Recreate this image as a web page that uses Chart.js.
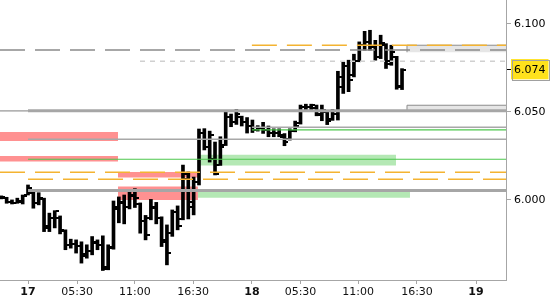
<!DOCTYPE html>
<html>
<head>
<meta charset="utf-8">
<script src="https://cdn.jsdelivr.net/npm/chart.js@4.4.1/dist/chart.umd.min.js"></script>
<style>
  html, body { margin: 0; padding: 0; background: #fff; }
</style>
</head>
<body>
<canvas id="priceChart" width="550" height="300"></canvas>
<script>
// half-hour bars, x = bar number
const highs = [6.0023, 6.0015, 6.0000, 6.0010, 6.0028, 6.0085, 6.0047, 6.0041, 6.0010, 5.9925,
  5.9939, 5.9909, 5.9830, 5.9777, 5.9773, 5.9762, 5.9745, 5.9792, 5.9773, 5.9796,
  5.9745, 5.9994, 6.0017, 6.0028, 6.0045, 6.0064, 5.9983, 5.9912, 6.0003, 5.9986,
  5.9904, 5.9858, 5.9943, 5.9966, 6.0198, 6.0159, 6.0130, 6.0403, 6.0405, 6.0391,
  6.0329, 6.0359, 6.0499, 6.0488, 6.0514, 6.0476, 6.0468, 6.0454, 6.0422, 6.0441,
  6.0420, 6.0404, 6.0404, 6.0377, 6.0404, 6.0448, 6.0539, 6.0544, 6.0544, 6.0539,
  6.0539, 6.0501, 6.0514, 6.0731, 6.0784, 6.0794, 6.0828, 6.0898, 6.0958, 6.0964,
  6.0907, 6.0936, 6.0888, 6.0879, 6.0816, 6.0746];
const lows = [6.0006, 5.9981, 5.9977, 5.9981, 5.9977, 6.0028, 5.9953, 5.9972, 5.9820, 5.9820,
  5.9841, 5.9807, 5.9717, 5.9726, 5.9698, 5.9641, 5.9669, 5.9688, 5.9717, 5.9599,
  5.9603, 5.9720, 5.9870, 5.9864, 5.9949, 5.9957, 5.9811, 5.9773, 5.9887, 5.9864,
  5.9735, 5.9631, 5.9793, 5.9830, 5.9887, 5.9892, 5.9915, 6.0085, 6.0284, 6.0215,
  6.0142, 6.0196, 6.0309, 6.0416, 6.0429, 6.0420, 6.0380, 6.0383, 6.0391, 6.0378,
  6.0359, 6.0359, 6.0359, 6.0308, 6.0340, 6.0387, 6.0431, 6.0510, 6.0510, 6.0478,
  6.0450, 6.0428, 6.0452, 6.0454, 6.0605, 6.0615, 6.0699, 6.0785, 6.0851, 6.0851,
  6.0794, 6.0803, 6.0747, 6.0765, 6.0629, 6.0627];
const opens = [6.0010, 6.0012, 5.9990, 5.9985, 5.9990, 6.0030, 6.0040, 5.9985, 6.0005, 5.9840,
  5.9900, 5.9895, 5.9825, 5.9745, 5.9750, 5.9740, 5.9690, 5.9710, 5.9755, 5.9745,
  5.9620, 5.9725, 5.9950, 5.9990, 5.9960, 6.0025, 5.9975, 5.9880, 5.9895, 5.9955,
  5.9895, 5.9770, 5.9810, 5.9930, 5.9890, 6.0120, 5.9960, 6.0100, 6.0380, 6.0300,
  6.0230, 6.0200, 6.0310, 6.0470, 6.0440, 6.0470, 6.0440, 6.0420, 6.0400, 6.0410,
  6.0395, 6.0380, 6.0380, 6.0360, 6.0345, 6.0390, 6.0435, 6.0530, 6.0530, 6.0520,
  6.0490, 6.0500, 6.0460, 6.0490, 6.0640, 6.0760, 6.0710, 6.0790, 6.0880, 6.0900,
  6.0870, 6.0810, 6.0880, 6.0790, 6.0810, 6.0640];
const closes = [6.0015, 5.9990, 5.9985, 5.9995, 6.0020, 6.0070, 5.9980, 6.0010, 5.9850, 5.9900,
  5.9935, 5.9830, 5.9745, 5.9750, 5.9740, 5.9680, 5.9710, 5.9760, 5.9745, 5.9610,
  5.9730, 5.9960, 5.9985, 5.9960, 6.0030, 6.0010, 5.9880, 5.9800, 5.9960, 5.9900,
  5.9760, 5.9700, 5.9930, 5.9850, 6.0150, 5.9990, 6.0100, 6.0380, 6.0300, 6.0370,
  6.0150, 6.0300, 6.0470, 6.0440, 6.0490, 6.0440, 6.0420, 6.0400, 6.0410, 6.0400,
  6.0380, 6.0380, 6.0370, 6.0330, 6.0390, 6.0420, 6.0530, 6.0530, 6.0540, 6.0480,
  6.0510, 6.0450, 6.0490, 6.0700, 6.0760, 6.0680, 6.0790, 6.0880, 6.0900, 6.0870,
  6.0810, 6.0890, 6.0770, 6.0840, 6.0650, 6.0740];

const xTickPos = [5, 14.2, 25, 35.9, 46.9, 56, 66.8, 77.8, 88.85];
const xTickLabels = ['17', '05:30', '11:00', '16:30', '18', '05:30', '11:00', '16:30', '19'];
const dayLabels = ['17', '18', '19'];
const yTickValues = [6.000, 6.050, 6.100];
const lastPrice = 6.074;
const xMin = -0.243, xMax = 94.46;
const yMin = 5.9545, yMax = 6.1136;

// horizontal levels
const lineLevels = [6.0852, 6.0879, 6.0788, 6.0506, 6.0507, 6.0413, 6.0398, 6.0345, 6.0231, 6.0157, 6.0118, 6.0053];
const lineFrom   = [xMin, 46.9, 25.96, xMin, 5.0, 46.9, 46.9, 5.0, 5.0, xMin, 5.0, 5.0];
const lineTo     = [xMax, xMax, xMax, 5.0, xMax, xMax, xMax, xMax, xMax, xMax, xMax, xMax];
const lineKinds  = ['dash', 'orange', 'dot', 'thin', 'thick', 'thin', 'green', 'thin', 'green', 'orange', 'orange', 'thick'];

// zones
const zoneTop    = [6.0879, 6.0538, 6.0386, 6.0250, 6.0159, 6.0076, 6.0256, 6.0054];
const zoneBottom = [6.0839, 6.0507, 6.0335, 6.0218, 6.0127, 6.0000, 6.0195, 6.0013];
const zoneFrom   = [75.93, 75.93, xMin, xMin, 21.84, 21.84, 36.8, 36.8];
const zoneTo     = [xMax, xMax, 21.84, 21.84, 36.8, 36.8, 73.87, 76.49];
const zoneKinds  = ['box', 'box', 'red', 'red', 'red', 'red', 'green', 'green'];

const lineStyles = {
  dash:   { color: '#8a8a8a', width: 1.5, dash: [25, 10] },
  orange: { color: '#f4b331', width: 1.5, dash: [25, 10] },
  dot:    { color: '#d0d0d0', width: 1.5, dash: [5, 5] },
  thin:   { color: '#a8a8a8', width: 1.5, dash: [] },
  thick:  { color: '#a6a6a6', width: 3, dash: [] },
  green:  { color: '#4cc74c', width: 1.2, dash: [] }
};
const zoneColors = { box: '#e6e6e6', red: '#ff9191', green: '#b4e8b4' };

function tickImage(left) {
  const c = document.createElement('canvas');
  c.width = 8;
  c.height = 2;
  const g = c.getContext('2d');
  g.fillStyle = '#000';
  g.fillRect(left ? 0 : 5, 0, 3, 2);
  return c;
}

const isLast = (v) => Math.abs(v - lastPrice) < 1e-6;

const datasets = [];

zoneKinds.forEach((kind, i) => {
  const pts = kind === 'box'
    ? [{ x: zoneFrom[i], y: zoneBottom[i] }, { x: zoneFrom[i], y: zoneTop[i] }, { x: zoneTo[i], y: zoneTop[i] }]
    : [{ x: zoneFrom[i], y: zoneTop[i] }, { x: zoneTo[i], y: zoneTop[i] }];
  datasets.push({
    type: 'line',
    data: pts,
    fill: { value: zoneBottom[i] },
    backgroundColor: zoneColors[kind],
    borderColor: '#8c8c8c',
    borderWidth: kind === 'box' ? 1 : 0,
    pointRadius: 0,
    tension: 0,
    order: 10
  });
});

lineKinds.forEach((kind, i) => {
  const st = lineStyles[kind];
  datasets.push({
    type: 'line',
    data: [{ x: lineFrom[i], y: lineLevels[i] }, { x: lineTo[i], y: lineLevels[i] }],
    borderColor: st.color,
    borderWidth: st.width,
    borderDash: st.dash,
    pointRadius: 0,
    fill: false,
    tension: 0,
    order: 2
  });
});

datasets.push({
  type: 'bar',
  data: highs.map((h, i) => ({ x: i, y: [lows[i], h] })),
  backgroundColor: '#000',
  borderWidth: 0,
  barThickness: 3,
  order: 5
});

datasets.push({
  type: 'line',
  data: opens.map((o, i) => ({ x: i, y: o })),
  showLine: false,
  pointStyle: tickImage(true),
  pointRadius: 3,
  pointBorderWidth: 0,
  order: 4
});

datasets.push({
  type: 'line',
  data: closes.map((c, i) => ({ x: i, y: c })),
  showLine: false,
  pointStyle: tickImage(false),
  pointRadius: 3,
  pointBorderWidth: 0,
  order: 4
});

// grey frame round the last-price label
const lastPriceFrame = {
  id: 'lastPriceFrame',
  afterDraw(chart) {
    const y = chart.scales.y;
    const ctx = chart.ctx;
    const py = Math.round(y.getPixelForValue(lastPrice));
    ctx.save();
    ctx.font = '11px "DejaVu Sans"';
    const w = ctx.measureText(lastPrice.toFixed(3)).width;
    ctx.strokeStyle = '#a0a0a0';
    ctx.lineWidth = 1;
    ctx.strokeRect(Math.round(y.left + 6) + 0.5, py - 10 + 0.5, Math.round(w + 6), 20);
    ctx.restore();
  }
};

new Chart(document.getElementById('priceChart'), {
  type: 'bar',
  data: { datasets: datasets },
  plugins: [lastPriceFrame],
  options: {
    responsive: false,
    animation: false,
    events: [],
    layout: { padding: 0, autoPadding: false },
    plugins: {
      legend: { display: false },
      tooltip: { enabled: false }
    },
    scales: {
      x: {
        type: 'linear',
        min: xMin,
        max: xMax,
        offset: false,
        grid: { drawOnChartArea: false, offset: false, tickLength: 4, color: '#a6a6a6' },
        border: { color: '#a6a6a6' },
        afterBuildTicks: (s) => { s.ticks = xTickPos.map(v => ({ value: v })); },
        afterFit: (s) => {
          s.height = 20;
          s.paddingLeft = 0;
          s.paddingRight = 0;
        },
        ticks: {
          autoSkip: false,
          maxRotation: 0,
          padding: 2,
          color: '#111',
          font: (c) => ({
            family: 'DejaVu Sans',
            size: 11,
            weight: dayLabels.includes(xTickLabels[c.index]) ? 'bold' : 'normal'
          }),
          callback: (v, i) => xTickLabels[i]
        }
      },
      y: {
        position: 'right',
        min: yMin,
        max: yMax,
        grid: {
          drawOnChartArea: false,
          tickLength: 5,
          color: '#a6a6a6',
          tickColor: (c) => (c.tick && isLast(c.tick.value) ? '#000' : '#a6a6a6')
        },
        border: { color: '#a6a6a6' },
        afterBuildTicks: (s) => {
          s.ticks = yTickValues.concat([lastPrice]).sort((a, b) => a - b).map(v => ({ value: v }));
        },
        afterFit: (s) => {
          s.width = 44;
          s.paddingTop = 0;
          s.paddingBottom = 0;
        },
        ticks: {
          autoSkip: false,
          padding: 3,
          color: '#000',
          font: { family: 'DejaVu Sans', size: 11 },
          showLabelBackdrop: (c) => isLast(c.tick.value),
          backdropColor: '#ffe21c',
          backdropPadding: { left: 3, right: 3, top: 4, bottom: 3 },
          callback: (v) => v.toFixed(3)
        }
      }
    }
  }
});
</script>
</body>
</html>
